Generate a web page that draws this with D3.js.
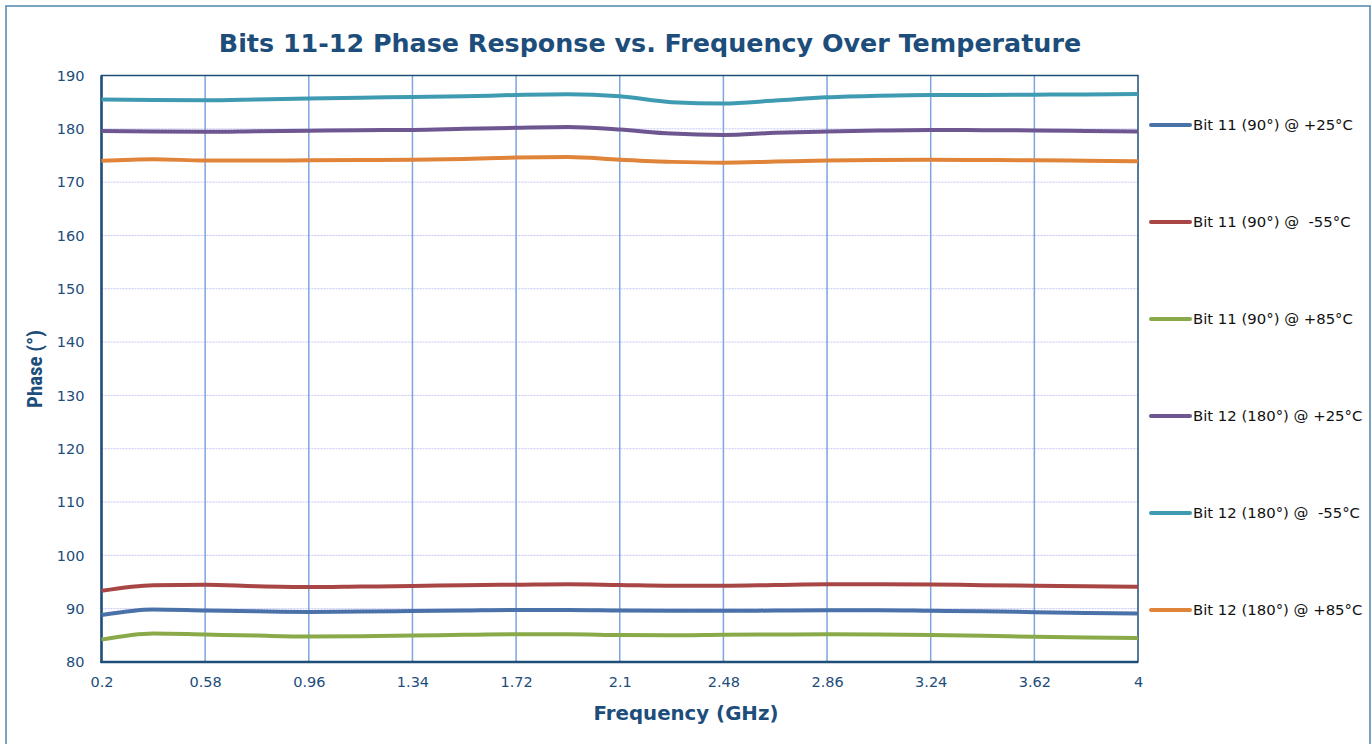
<!DOCTYPE html>
<html><head><meta charset="utf-8">
<script src="https://cdn.jsdelivr.net/npm/d3@7"></script>
<style>body{margin:0;background:#fff}svg{display:block}text{white-space:pre}</style>
</head><body>
<svg id="c" width="1372" height="744"></svg>
<script>
const freq = [0.2,0.39,0.58,0.77,0.96,1.15,1.34,1.53,1.72,1.91,2.1,2.29,2.48,2.67,2.86,3.05,3.24,3.43,3.62,3.81,4.0];
const bit11_p25 = [88.8,89.85,89.65,89.5,89.4,89.45,89.55,89.65,89.75,89.75,89.65,89.6,89.6,89.65,89.7,89.7,89.6,89.5,89.35,89.2,89.1];
const bit11_m55 = [93.35,94.4,94.5,94.2,94.05,94.15,94.25,94.4,94.5,94.6,94.45,94.3,94.3,94.45,94.6,94.6,94.55,94.4,94.3,94.2,94.1];
const bit11_p85 = [84.2,85.35,85.15,84.95,84.8,84.85,84.95,85.1,85.2,85.2,85.05,85.0,85.1,85.15,85.2,85.15,85.05,84.9,84.75,84.6,84.5];
const bit12_p25 = [179.6,179.5,179.45,179.55,179.65,179.75,179.8,180.0,180.2,180.35,179.85,179.1,178.85,179.25,179.5,179.7,179.8,179.75,179.7,179.6,179.5];
const bit12_m55 = [185.5,185.4,185.35,185.5,185.7,185.85,185.95,186.1,186.35,186.5,186.1,185.0,184.75,185.3,185.9,186.2,186.35,186.35,186.4,186.45,186.55];
const bit12_p85 = [174.0,174.3,174.05,174.05,174.1,174.15,174.2,174.35,174.6,174.7,174.2,173.8,173.65,173.85,174.05,174.15,174.2,174.15,174.1,174.0,173.9];
const seriesNames = ["Bit 11 (90°) @ +25°C","Bit 11 (90°) @  -55°C","Bit 11 (90°) @ +85°C","Bit 12 (180°) @ +25°C","Bit 12 (180°) @  -55°C","Bit 12 (180°) @ +85°C"];
const seriesValues = [bit11_p25,bit11_m55,bit11_p85,bit12_p25,bit12_m55,bit12_p85];
const seriesColors = ["#4a72a8","#a84646","#8aaa4a","#6e5690","#3f9bb2","#e0843a"];
const xTicks = [0.2,0.58,0.96,1.34,1.72,2.1,2.48,2.86,3.24,3.62,4];
const yTicks = [80,90,100,110,120,130,140,150,160,170,180,190];

const svg = d3.select("#c");
const L=101.5, R=1138, T=75.5, B=662;
const x = d3.scaleLinear().domain([0.2,4]).range([L,R]);
const y = d3.scaleLinear().domain([80,190]).range([B,T]);
const dark = "#1f4e79";

function fit(sel, target){
  const w = sel.node().getComputedTextLength();
  const fs = parseFloat(sel.attr("font-size"));
  sel.attr("font-size", fs*target/w);
}

// outer frame
svg.append("rect").attr("x",6).attr("y",6).attr("width",1364).attr("height",760)
  .attr("fill","none").attr("stroke","#4f86ab").attr("stroke-width",1.5);

// title
const title = svg.append("text").attr("x",650).attr("y",52).attr("text-anchor","middle")
  .attr("font-family","'DejaVu Sans',sans-serif").attr("font-weight","bold")
  .attr("font-size",24).attr("fill","#1d4d7a").text("Bits 11-12 Phase Response vs. Frequency Over Temperature");
fit(title, 863);

// horizontal grid
svg.append("g").selectAll("line").data(yTicks.slice(1,-1)).join("line")
  .attr("x1",L).attr("x2",R).attr("y1",d=>y(d)).attr("y2",d=>y(d))
  .attr("stroke","#c3c6f6").attr("stroke-width",1).attr("stroke-dasharray","2,1");
// vertical grid
svg.append("g").selectAll("line").data(xTicks.slice(1,-1)).join("line")
  .attr("y1",T).attr("y2",B).attr("x1",d=>x(d)).attr("x2",d=>x(d))
  .attr("stroke","#7ca5e2").attr("stroke-width",1.5);

// axes
const ya = svg.append("g").attr("transform",`translate(${L},0)`)
  .call(d3.axisLeft(y).tickValues(yTicks).tickSize(0).tickPadding(17));
ya.select(".domain").remove();
ya.selectAll("text").attr("font-family","'DejaVu Sans',sans-serif").attr("font-size",14.5).attr("fill","#1d4d7a");
const xa = svg.append("g").attr("transform",`translate(0,${B})`)
  .call(d3.axisBottom(x).tickValues(xTicks).tickSize(0).tickPadding(15).tickFormat(d=>String(d)));
xa.select(".domain").remove();
xa.selectAll("text").attr("font-family","'DejaVu Sans',sans-serif").attr("font-size",14.5).attr("fill","#1d4d7a");

// plot border
svg.append("rect").attr("x",L).attr("y",T).attr("width",R-L).attr("height",B-T)
  .attr("fill","none").attr("stroke",dark).attr("stroke-width",1.5);
svg.append("line").attr("x1",L).attr("x2",L).attr("y1",T).attr("y2",B+1).attr("stroke",dark).attr("stroke-width",2.5);
svg.append("line").attr("x1",L-1).attr("x2",R).attr("y1",B).attr("y2",B).attr("stroke",dark).attr("stroke-width",2.5);

// lines
const line = d3.line().x((d,i)=>x(freq[i])).y(d=>y(d)).curve(d3.curveMonotoneX);
svg.append("g").selectAll("path").data(seriesValues).join("path")
  .attr("d",line).attr("fill","none").attr("stroke",(d,i)=>seriesColors[i])
  .attr("stroke-width",4).attr("stroke-linejoin","round");

// axis titles
const yt = svg.append("text").attr("transform","translate(42,369) rotate(-90)").attr("text-anchor","middle")
  .attr("font-family","'Liberation Sans Narrow','Roboto Condensed','Liberation Sans',sans-serif").attr("font-weight","bold")
  .attr("font-size",20).attr("fill","#1d4d7a").text("Phase (°)");
fit(yt, 78);
const xt = svg.append("text").attr("x",686).attr("y",720).attr("text-anchor","middle")
  .attr("font-family","'DejaVu Sans',sans-serif").attr("font-weight","bold")
  .attr("font-size",19).attr("fill","#1d4d7a").text("Frequency (GHz)");
fit(xt, 185);

// legend
const lg = svg.append("g").selectAll("g").data(seriesNames).join("g")
  .attr("transform",(d,i)=>`translate(1150,${125+i*97})`);
lg.append("line").attr("x1",1).attr("x2",40).attr("stroke",(d,i)=>seriesColors[i])
  .attr("stroke-width",4).attr("stroke-linecap","round");
const lt = lg.append("text").attr("x",43).attr("y",5).attr("font-family","'DejaVu Sans',sans-serif")
  .attr("font-size",13).attr("fill","#111").text(d=>d);
const w0 = lt.nodes()[0].getComputedTextLength();
lt.attr("font-size", 13*160/w0);
</script>
</body></html>
